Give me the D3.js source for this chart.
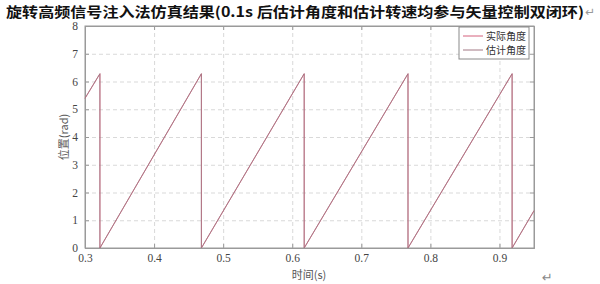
<!DOCTYPE html>
<html>
<head>
<meta charset="utf-8">
<script src="https://cdn.jsdelivr.net/npm/d3@7"></script>
<style>
  body { margin: 0; background: #fff; }
  svg { display: block; }
</style>
</head>
<body>
<svg></svg>
<script>
// sawtooth corners (time s, angle rad)
var actualTime  = [0.3, 0.3217, 0.3217, 0.4686, 0.4686, 0.6174, 0.6174, 0.7677, 0.7677, 0.9184, 0.9184, 0.95];
var actualAngle = [5.39, 6.28, 0, 6.28, 0, 6.28, 0, 6.28, 0, 6.28, 0, 1.34];
var estTime     = [0.3, 0.3215, 0.3215, 0.4684, 0.4684, 0.6172, 0.6172, 0.7675, 0.7675, 0.9182, 0.9182, 0.95];
var estAngle    = [5.40, 6.28, 0, 6.28, 0, 6.28, 0, 6.28, 0, 6.28, 0, 1.35];

var xTicks = [0.3, 0.4, 0.5, 0.6, 0.7, 0.8, 0.9];
var yTicks = [0, 1, 2, 3, 4, 5, 6, 7, 8];
var seriesNames = ["实际角度", "估计角度"];
var seriesColors = ["#d4607c", "#a27884"];

var titleText = "旋转高频信号注入法仿真结果(0.1s 后估计角度和估计转速均参与矢量控制双闭环)";

var screen = { width: 600, height: 284 };
var margins = { left: 85, top: 26, right: 66, bottom: 36 }; //plot box 85..534, 26..248

var width = screen.width - margins.left - margins.right;
var height = screen.height - margins.top - margins.bottom;

var svg = d3.select("svg")
            .attr("width", screen.width)
            .attr("height", screen.height);

//title
svg.append("text")
   .attr("x", 6)
   .attr("y", 17)
   .attr("textLength", 578)
   .attr("lengthAdjust", "spacingAndGlyphs")
   .style("font-family", "'Noto Sans CJK SC', sans-serif")
   .style("font-size", "14px")
   .style("font-weight", "bold")
   .attr("fill", "#111")
   .text(titleText);

svg.append("text")
   .attr("x", 585)
   .attr("y", 16)
   .style("font-family", "'DejaVu Sans', sans-serif")
   .style("font-size", "12px")
   .attr("fill", "#999")
   .text("↵");

var xScale = d3.scaleLinear().domain([0.3, 0.95]).range([0, width]);
var yScale = d3.scaleLinear().domain([0, 8]).range([height, 0]);

var plot = svg.append("g")
              .attr("transform", "translate(" + margins.left + "," + margins.top + ")");

//dashed grid
plot.append("g")
    .attr("class", "grid")
    .call(d3.axisBottom(xScale).tickValues(xTicks.slice(1)).tickSize(height).tickFormat(""))
    .call(function(g) { g.select(".domain").remove(); });

plot.append("g")
    .attr("class", "grid")
    .call(d3.axisLeft(yScale).tickValues(yTicks.slice(1, -1)).tickSize(-width).tickFormat(""))
    .call(function(g) { g.select(".domain").remove(); });

plot.selectAll(".grid line")
    .attr("stroke", "#cfcfcf")
    .attr("stroke-width", 0.8)
    .attr("stroke-dasharray", "4,3");

//axes, ticks pointing inward like matlab
var xAxis = plot.append("g")
                .attr("transform", "translate(0," + height + ")")
                .call(d3.axisBottom(xScale).tickValues(xTicks).tickSize(-4).tickPadding(6).tickFormat(d3.format(".1f")));

var yAxis = plot.append("g")
                .call(d3.axisLeft(yScale).tickValues(yTicks).tickSize(-4).tickPadding(7).tickFormat(d3.format("d")));

plot.append("g")
    .call(d3.axisTop(xScale).tickValues(xTicks).tickSize(-4).tickFormat(""));
plot.append("g")
    .attr("transform", "translate(" + width + ",0)")
    .call(d3.axisRight(yScale).tickValues(yTicks).tickSize(-4).tickFormat(""));

plot.selectAll(".domain, .tick line:not(.grid .tick line)")
    .attr("stroke", "#9a9a9a");
plot.selectAll(".tick text")
    .attr("fill", "#444")
    .style("font-family", "'Liberation Serif', serif")
    .style("font-size", "11.5px");

//box
plot.append("rect")
    .attr("width", width)
    .attr("height", height)
    .attr("fill", "none")
    .attr("stroke", "#9a9a9a")
    .attr("stroke-width", 1);

//lines
var line = d3.line()
             .x(function(d) { return xScale(d[0]); })
             .y(function(d) { return yScale(d[1]); });

var series = [d3.zip(actualTime, actualAngle), d3.zip(estTime, estAngle)];

plot.selectAll(".series")
    .data(series)
    .enter()
    .append("path")
    .attr("class", "series")
    .attr("d", line)
    .attr("fill", "none")
    .attr("stroke", function(d, i) { return seriesColors[i]; })
    .attr("stroke-width", 1)
    .attr("opacity", 0.85);

//axis labels
svg.append("text")
   .attr("transform", "translate(68," + (margins.top + height / 2) + ") rotate(-90)")
   .attr("text-anchor", "middle")
   .attr("fill", "#555")
   .style("font-family", "'Noto Sans CJK SC', serif")
   .style("font-size", "11px")
   .text("位置(rad)");

svg.append("text")
   .attr("x", 309)
   .attr("y", 279)
   .attr("text-anchor", "middle")
   .attr("fill", "#555")
   .style("font-family", "'Noto Sans CJK SC', serif")
   .style("font-size", "11px")
   .text("时间(s)");

svg.append("text")
   .attr("x", 542)
   .attr("y", 282)
   .style("font-family", "'DejaVu Sans', sans-serif")
   .style("font-size", "13px")
   .attr("fill", "#888")
   .text("↵");

//legend
var legend = svg.append("g")
                .attr("transform", "translate(459,27)");

legend.append("rect")
      .attr("width", 70)
      .attr("height", 32)
      .attr("fill", "#fff")
      .attr("stroke", "#8a8a8a")
      .attr("stroke-width", 1);

var legendLines = legend.selectAll(".legendLines")
                        .data(seriesNames)
                        .enter()
                        .append("g")
                        .attr("class", "legendLines")
                        .attr("transform", function(d, i) { return "translate(0," + (9 + i * 14) + ")"; });

legendLines.append("line")
           .attr("x1", 4)
           .attr("x2", 24)
           .attr("stroke", function(d, i) { return seriesColors[i]; })
           .attr("stroke-width", 1);

legendLines.append("text")
           .attr("x", 27)
           .attr("y", 3.5)
           .attr("fill", "#333")
           .style("font-family", "'Noto Sans CJK SC', serif")
           .style("font-size", "10px")
           .text(function(d) { return d; });
</script>
</body>
</html>
